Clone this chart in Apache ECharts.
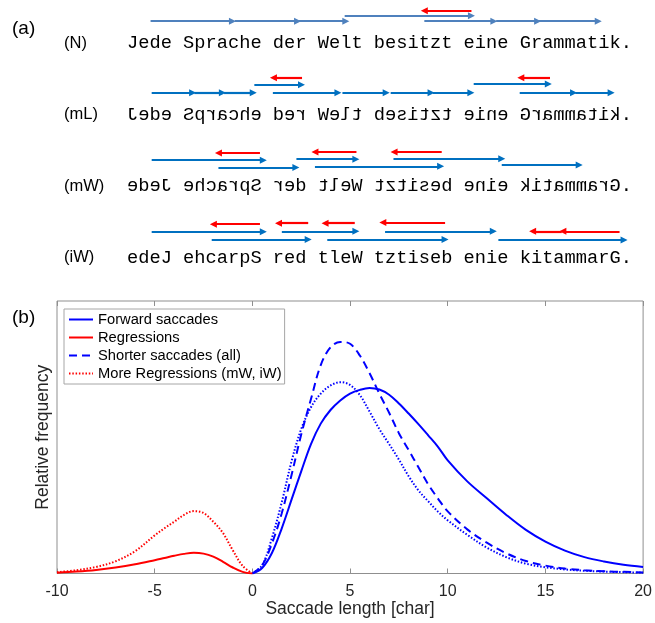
<!DOCTYPE html>
<html>
<head>
<meta charset="utf-8">
<script src="https://cdn.jsdelivr.net/npm/echarts@6/dist/echarts.min.js"></script>
<style>
  html, body { margin: 0; padding: 0; background: #fff; }
  #main { width: 655px; height: 623px; }
</style>
</head>
<body>
<div id="main"></div>
<script>
// ---- panel (b): saccade length distributions ----
var xNeg = [-10, -9, -8, -7, -6, -5, -4.5, -4, -3.5, -3, -2.5, -2, -1.5, -1, -0.5, 0];
var regressions = [0.003, 0.007, 0.013, 0.022, 0.034, 0.049, 0.057, 0.065, 0.072, 0.076, 0.073, 0.062, 0.043, 0.022, 0.006, 0];
var moreRegNeg = [0.005, 0.012, 0.024, 0.045, 0.082, 0.14, 0.166, 0.19, 0.215, 0.229, 0.222, 0.19, 0.148, 0.085, 0.028, 0];

var xPos = [0, 0.5, 1, 1.5, 2, 2.5, 3, 3.5, 4, 4.5, 5, 5.5, 6, 6.5, 7, 7.5, 8, 8.5, 9, 9.5, 10,
  11, 12, 13, 14, 15, 16, 17, 18, 19, 20];
var forward = [0, 0.02, 0.075, 0.165, 0.27, 0.375, 0.475, 0.55, 0.6, 0.635, 0.66, 0.674, 0.681, 0.675, 0.656,
  0.624, 0.587, 0.548, 0.507, 0.465, 0.415, 0.338, 0.276, 0.215, 0.16, 0.117, 0.084, 0.06, 0.044, 0.032, 0.024];
var shorter = [0, 0.03, 0.11, 0.22, 0.36, 0.51, 0.64, 0.765, 0.83, 0.85, 0.843, 0.8, 0.735, 0.66, 0.59,
  0.515, 0.453, 0.39, 0.327, 0.275, 0.228, 0.162, 0.113, 0.074, 0.046, 0.029, 0.018, 0.012, 0.008, 0.006, 0.004];
var moreRegPos = [0, 0.03, 0.13, 0.26, 0.41, 0.53, 0.61, 0.66, 0.69, 0.702, 0.692, 0.655, 0.594, 0.53, 0.475,
  0.418, 0.357, 0.305, 0.265, 0.227, 0.195, 0.142, 0.095, 0.06, 0.036, 0.023, 0.015, 0.01, 0.007, 0.005, 0.003];

// ---- panel (a): sentences and saccades ----
var rowLabels = ['(N)', '(mL)', '(mW)', '(iW)'];
var sentences = [
  'Jede Sprache der Welt besitzt eine Grammatik.',
  'Jede Sprache der Welt besitzt eine Grammatik.',
  'Jede Sprache der Welt besitzt eine Grammatik.',
  'edeJ ehcarpS red tleW tztiseb enie kitammarG.'
];
var mirrorModes = ['none', 'letters', 'words', 'none'];

// saccades: [from char, to char, level above the line]
var blueN = [[2.1, 9.4, 3.1], [9.6, 15.2, 3.1], [15.3, 19.5, 3.1], [19.4, 30.7, 3.85],
  [26.5, 32.7, 3.1], [32.9, 36.6, 3.1], [36.7, 42.0, 3.1]];
var redN = [[30.7, 26.5, 4.55]];
var blueML = [[2.2, 5.85, 3.1], [6.0, 8.5, 3.1], [8.65, 11.25, 3.1], [11.35, 15.55, 4.2], [13.0, 18.8, 3.1],
  [19.2, 23.1, 3.1], [23.5, 27.1, 3.1], [27.25, 30.65, 3.1], [30.9, 37.55, 4.3], [35.0, 39.8, 3.1], [39.95, 43.15, 3.1]];
var redML = [[15.6, 13.05, 5.2], [37.7, 35.1, 5.2]];
var blueMW = [[2.2, 12.15, 3.65], [8.15, 15.05, 2.65], [15.1, 20.4, 3.8], [16.75, 27.95, 2.8],
  [23.75, 33.4, 3.85], [33.4, 40.3, 3.0]];
var redMW = [[11.85, 8.15, 4.65], [20.45, 16.75, 4.8], [28.05, 23.8, 4.8]];
var blueIW = [[2.2, 12.15, 3.65], [7.55, 16.15, 2.55], [13.8, 20.4, 3.7], [17.85, 28.35, 2.55],
  [23.0, 32.65, 3.7], [33.1, 44.3, 2.5]];
var redIW = [[11.85, 7.7, 4.7], [16.15, 13.5, 4.85], [20.3, 17.65, 4.85], [28.35, 22.8, 4.95],
  [43.9, 38.85, 3.7], [38.75, 36.15, 3.7]];

var ROW_STEP = 10;
var CHAR_W = 11.22;
var MONO = '18.7px "Liberation Mono"';

function pairs(xs, ys) {
  return xs.map(function (x, i) { return [x, ys[i]]; });
}

function toLines(list, row) {
  return list.map(function (s) {
    var y = ROW_STEP * row - s[2];
    return { coords: [[s[0], y], [s[1], y]] };
  });
}

var blueRest = [].concat(toLines(blueML, 1), toLines(blueMW, 2), toLines(blueIW, 3));
var redAll = [].concat(toLines(redN, 0), toLines(redML, 1), toLines(redMW, 2), toLines(redIW, 3));

var axisGray = '#8f8f8f';

var option = {
  animation: false,
  textStyle: { fontFamily: 'Liberation Sans' },
  grid: [
    { left: 57, top: 301, width: 588, height: 272.5, show: true, borderColor: axisGray, borderWidth: 1, backgroundColor: '#fff' },
    { left: 127, top: 4, width: 45 * CHAR_W, height: 286 }
  ],
  legend: {
    data: ['Forward saccades', 'Regressions', 'Shorter saccades (all)', 'More Regressions (mW, iW)'],
    orient: 'vertical',
    left: 64,
    top: 309,
    itemWidth: 24,
    itemHeight: 15,
    itemGap: 3,
    padding: [3, 3, 3, 4],
    borderColor: '#a6a6a6',
    borderWidth: 1,
    backgroundColor: '#fff',
    selectedMode: false,
    itemStyle: { opacity: 0 },
    textStyle: { fontSize: 14.7, color: '#000', fontFamily: 'Liberation Sans' }
  },
  xAxis: [
    {
      type: 'value', gridIndex: 0, min: -10, max: 20, interval: 5,
      name: 'Saccade length [char]', nameLocation: 'middle', nameGap: 27,
      nameTextStyle: { fontSize: 17.5, color: '#262626' },
      axisLine: { show: false },
      axisTick: { inside: true, length: 5, lineStyle: { color: axisGray } },
      axisLabel: { fontSize: 16, color: '#262626', margin: 10 },
      splitLine: { show: false }
    },
    {
      type: 'value', gridIndex: 0, position: 'top', min: -10, max: 20, interval: 5,
      axisLine: { show: false },
      axisTick: { inside: true, length: 5, lineStyle: { color: axisGray } },
      axisLabel: { show: false },
      splitLine: { show: false }
    },
    { type: 'value', gridIndex: 1, min: 0, max: 45, show: false }
  ],
  yAxis: [
    {
      type: 'value', gridIndex: 0, min: 0, max: 1,
      name: 'Relative frequency', nameLocation: 'middle', nameGap: 5,
      nameTextStyle: { fontSize: 17.5, color: '#262626' },
      axisLine: { show: false }, axisTick: { show: false }, axisLabel: { show: false },
      splitLine: { show: false }
    },
    { type: 'value', gridIndex: 1, min: -5.5, max: 34.5, inverse: true, show: false }
  ],
  series: [
    {
      name: 'Forward saccades', type: 'line', xAxisIndex: 0, yAxisIndex: 0,
      data: pairs(xPos, forward), symbol: 'none', smooth: 0.35, z: 5,
      color: '#0000ff', lineStyle: { color: '#0000ff', width: 2 }
    },
    {
      name: 'Regressions', type: 'line', xAxisIndex: 0, yAxisIndex: 0,
      data: pairs(xNeg, regressions), symbol: 'none', smooth: 0.35, z: 5,
      color: '#ff0000', lineStyle: { color: '#ff0000', width: 2 }
    },
    {
      name: 'Shorter saccades (all)', type: 'line', xAxisIndex: 0, yAxisIndex: 0,
      data: pairs(xPos, shorter), symbol: 'none', smooth: 0.35, z: 4,
      color: '#0000ff', lineStyle: { color: '#0000ff', width: 2, type: [8, 5] }
    },
    {
      name: 'More Regressions (mW, iW)', type: 'line', xAxisIndex: 0, yAxisIndex: 0,
      data: pairs(xNeg, moreRegNeg), symbol: 'none', smooth: 0.35, z: 4,
      color: '#ff0000', lineStyle: { color: '#ff0000', width: 2, type: [1.5, 1.8] }
    },
    {
      name: 'More Regressions forward', type: 'line', xAxisIndex: 0, yAxisIndex: 0,
      data: pairs(xPos, moreRegPos), symbol: 'none', smooth: 0.35, z: 4,
      color: '#0000ff', lineStyle: { color: '#0000ff', width: 2, type: [1.5, 1.8] }
    },
    // saccade arrows above the sentences
    {
      type: 'lines', coordinateSystem: 'cartesian2d', xAxisIndex: 2, yAxisIndex: 1,
      data: toLines(blueN, 0), symbol: ['none', 'triangle'], symbolSize: 7,
      lineStyle: { color: '#4f81bd', width: 2, opacity: 1 }
    },
    {
      type: 'lines', coordinateSystem: 'cartesian2d', xAxisIndex: 2, yAxisIndex: 1,
      data: blueRest, symbol: ['none', 'triangle'], symbolSize: 7,
      lineStyle: { color: '#0070c0', width: 2.2, opacity: 1 }
    },
    {
      type: 'lines', coordinateSystem: 'cartesian2d', xAxisIndex: 2, yAxisIndex: 1,
      data: redAll, symbol: ['none', 'triangle'], symbolSize: 7, z: 3,
      lineStyle: { color: '#ff0000', width: 2.2, opacity: 1 }
    }
  ]
};

var chart = echarts.init(document.getElementById('main'));
chart.setOption(option);

// sentences, one glyph per cell so the mirrored rows line up with the arrows
function textEl(str, x, y, font, align, flip) {
  return {
    type: 'text', x: x, y: y, scaleX: flip ? -1 : 1, z: 10,
    style: {
      text: str, font: font, fill: '#000',
      align: align, verticalAlign: 'middle',
      textAlign: align, textVerticalAlign: 'middle'
    }
  };
}

var elements = [];
elements.push(textEl('(a)', 12, 29, '19px "Liberation Sans"', 'left', false));
elements.push(textEl('(b)', 12, 318, '19px "Liberation Sans"', 'left', false));

sentences.forEach(function (s, row) {
  var mode = mirrorModes[row];
  var yPix = chart.convertToPixel({ gridIndex: 1 }, [0, ROW_STEP * row])[1];
  elements.push(textEl(rowLabels[row], 64, yPix, '16.5px "Liberation Sans"', 'left', false));

  // cell index for every character
  var cells = s.split('').map(function (ch, i) { return i; });
  if (mode === 'words') {
    var re = /[A-Za-z]+/g, m;
    while ((m = re.exec(s)) !== null) {
      var a = m.index, b = m.index + m[0].length - 1;
      for (var k = a; k <= b; k++) cells[k] = a + b - k;
    }
  }
  s.split('').forEach(function (ch, i) {
    if (ch === ' ') return;
    var flip = (mode === 'letters' || mode === 'words') && ch !== '.';
    var p = chart.convertToPixel({ gridIndex: 1 }, [cells[i] + 0.5, ROW_STEP * row]);
    elements.push(textEl(ch, p[0], p[1], MONO, 'center', flip));
  });
});

chart.setOption({ graphic: { elements: elements } });
</script>
</body>
</html>
